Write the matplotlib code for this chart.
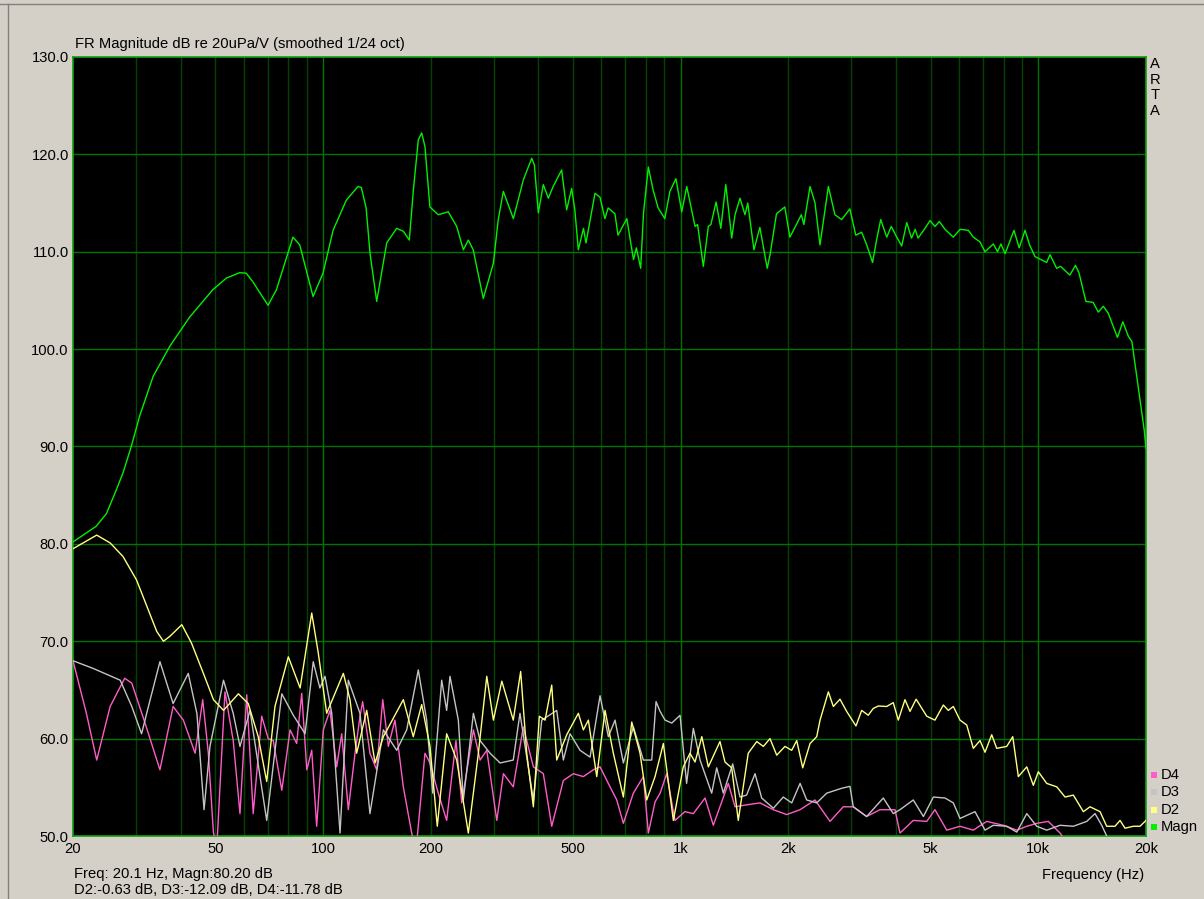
import matplotlib
matplotlib.use("Agg")
import matplotlib.pyplot as plt
from matplotlib.lines import Line2D
from matplotlib.patches import Rectangle

W, H = 1204, 899
BG = "#D4D0C8"

# ---- data (Hz, dB) ----
magn_f = [20, 23.2, 24.8, 26.4, 27.6, 29.1, 30.7, 33.5, 37.3, 42.4, 49.2, 53.7, 58.5, 61, 63.7,
          70.2, 74.1, 82.4, 86.1, 93.8, 100, 106.7, 116.2, 125.3, 128, 132, 135.4, 141.3, 150.7,
          160.7, 167.8, 174.3, 178.9, 184.7, 188.8, 192.8, 199, 210, 224, 236.5, 246.8, 254.9,
          263, 280.6, 299.4, 309, 319.3, 340.6, 363.3, 383.4, 390, 400, 413, 426.6, 440, 464.8,
          480, 495.7, 506, 517.4, 535, 543.6, 576, 595, 614, 627, 655, 668, 707, 738, 752, 773,
          787, 812, 838, 865, 903, 933, 970, 1007, 1040, 1097, 1115, 1157, 1195, 1215, 1256,
          1295, 1337, 1389, 1419, 1465, 1513, 1540, 1603, 1665, 1746, 1780, 1853, 1955, 2020,
          2080, 2175, 2210, 2300, 2375, 2452, 2588, 2700, 2819, 2972, 3088, 3207, 3313, 3440,
          3530, 3625, 3768, 3880, 4019, 4150, 4287, 4420, 4526, 4610, 4820, 4980, 5140, 5287,
          5485, 5783, 6043, 6372, 6580, 6871, 7095, 7485, 7690, 7860, 8074, 8548, 8840, 9180,
          9450, 9790, 10550, 10780, 11250, 11540, 12250, 12700, 13000, 13580, 14230, 14710,
          15190, 15680, 16640, 17230, 17860, 18260, 19120, 19770, 20000]
magn_db = [80.2, 81.8, 83.1, 85.5, 87.3, 90.0, 93.1, 97.2, 100.3, 103.3, 106.1, 107.3, 107.85, 107.8,
           106.9, 104.5, 106.1, 111.5, 110.7, 105.4, 107.8, 112.2, 115.3, 116.7, 116.6, 114.5,
           109.8, 104.9, 110.9, 112.4, 112.1, 111.2, 116.3, 121.5, 122.2, 120.8, 114.6, 113.8,
           114.1, 112.6, 110.2, 111.2, 110.2, 105.2, 108.8, 113.3, 116.2, 113.4, 117.4, 119.6,
           118.9, 114.0, 116.9, 115.5, 116.7, 118.4, 114.3, 116.5, 114.3, 110.2, 112.4, 110.9,
           116.0, 115.6, 113.4, 114.5, 113.9, 111.7, 113.4, 109.2, 110.4, 108.3, 113.9, 118.7,
           116.3, 114.5, 113.4, 116.2, 117.5, 114.1, 116.7, 112.6, 112.8, 108.5, 112.6, 112.8,
           115.1, 112.4, 116.9, 111.4, 113.8, 115.5, 113.8, 115.0, 110.2, 112.5, 108.3, 109.8,
           113.9, 114.6, 111.5, 112.4, 113.8, 112.8, 116.7, 115.0, 110.7, 116.7, 113.8, 113.3,
           114.4, 111.7, 112.0, 110.7, 108.9, 111.2, 113.3, 111.5, 112.6, 111.5, 110.6, 113.0,
           111.4, 112.3, 111.4, 112.4, 113.2, 112.6, 113.1, 112.3, 111.5, 112.3, 112.2, 111.5,
           111.0, 110.0, 110.8, 110.0, 110.8, 109.8, 112.2, 110.4, 112.2, 110.7, 109.5, 108.9,
           109.7, 108.3, 108.5, 107.6, 108.6, 107.8, 104.9, 104.8, 103.8, 104.4, 103.7, 101.2,
           102.8, 101.3, 100.8, 95.5, 91.7, 89.8]

d2_f = [20, 23.3, 25.4, 27.6, 30.1, 32.5, 34.3, 35.8, 37.3, 40.3, 42.9, 46.3, 49.4, 52.7, 58.0,
        61.8, 65.9, 69.6, 73.4, 80.0, 86.3, 93.0, 97.0, 102.4, 114.0, 119.0, 124.2, 132.5, 139.8,
        147.5, 167.7, 178.8, 188.8, 199.1, 208.7, 221.7, 236.5, 254.9, 271.9, 287.0, 299.5,
        316.2, 340.4, 357.0, 371.2, 387.4, 402.6, 417.7, 436.0, 450.3, 480.3, 517.5, 534.5,
        552.0, 582.6, 614.6, 648.3, 691.5, 729.8, 769.8, 803.8, 848.0, 894.6, 954.1, 1017,
        1062, 1097, 1146, 1195, 1288, 1330, 1389, 1449, 1545, 1632, 1703, 1777, 1856, 1957,
        2044, 2111, 2194, 2300, 2401, 2453, 2588, 2672, 2789, 2911, 3091, 3207, 3346, 3455,
        3569, 3768, 3930, 4059, 4238, 4377, 4553, 4876, 5140, 5425, 5602, 5785, 6040, 6306,
        6580, 6870, 7095, 7407, 7650, 8159, 8482, 8793, 9283, 9683, 10000, 10554, 11258, 11877,
        12530, 13361, 13948, 14876, 15531, 16384, 16920, 17474, 18433, 19243, 20000]
d2_db = [79.5, 80.9, 80.1, 78.7, 76.3, 73.2, 71.0, 70.0, 70.5, 71.7, 69.8, 66.7, 64.0, 62.9, 64.6,
         63.6, 60.2, 55.6, 63.3, 68.4, 65.2, 72.9, 68.8, 62.6, 66.7, 64.0, 58.5, 62.9, 57.5, 60.2,
         64.0, 60.2, 63.5, 59.2, 51.0, 60.5, 57.8, 50.3, 58.5, 66.4, 61.9, 65.9, 61.9, 66.9, 58.5,
         53.0, 62.3, 61.9, 65.5, 57.8, 60.4, 62.6, 60.9, 61.9, 56.1, 62.9, 58.5, 54.0, 61.7, 58.5,
         53.7, 56.1, 59.5, 51.6, 57.1, 58.5, 57.6, 60.2, 57.1, 59.7, 57.6, 57.0, 51.6, 58.5, 59.7,
         59.2, 60.0, 58.3, 59.2, 58.8, 59.8, 57.0, 59.5, 60.2, 61.9, 64.8, 63.3, 64.05, 62.8,
         61.3, 62.9, 62.4, 63.1, 63.35, 63.3, 63.7, 61.9, 64.0, 62.8, 64.05, 62.3, 61.9, 63.45,
         62.9, 63.3, 61.9, 61.4, 59.0, 59.8, 58.6, 60.4, 59.0, 59.2, 60.2, 56.1, 57.1, 55.2, 56.6,
         55.4, 55.05, 54.0, 54.2, 52.5, 53.0, 52.5, 51.0, 51.0, 51.6, 50.8, 51.0, 51.0, 51.6]

d3_f = [20, 22.8, 27.1, 29.2, 31.1, 32.5, 35.0, 38.1, 42.0, 44.4, 46.5, 48.3, 52.7, 56.1, 58.6,
        62.5, 69.6, 76.7, 82.6, 89.1, 93.9, 98.0, 101.3, 105.8, 111.6, 117.7, 126.9, 135.3,
        147.5, 160.7, 171.4, 184.7, 194.9, 202.6, 214.7, 221.7, 226.5, 239.0, 246.8, 263.3,
        274.9, 293.2, 312.7, 340.4, 355.4, 387.4, 408.9, 450.3, 469.9, 490.6, 523.2, 558.1,
        595.1, 627.8, 655.4, 691.5, 737.4, 786.4, 830.0, 853.5, 875.8, 904.5, 944.3, 996,
        1039, 1085, 1133, 1221, 1261, 1316, 1398, 1465, 1529, 1614, 1685, 1816, 1936, 2044,
        2157, 2251, 2401, 2561, 2819, 2974, 3038, 3311, 3686, 3930, 4103, 4471, 4771, 5088,
        5485, 5785, 6040, 6652, 7095, 7484, 8159, 8703, 9283, 9898, 10554, 11500, 12530, 13656,
        14404, 15038, 15531, 16200, 20000]
d3_db = [68.0, 67.2, 66.0, 63.3, 60.5, 63.3, 67.9, 63.6, 66.7, 62.6, 52.7, 59.2, 66.0, 62.6, 59.2,
         62.9, 51.6, 64.6, 62.4, 60.5, 67.9, 65.2, 66.4, 62.6, 50.3, 66.0, 62.6, 52.3, 60.9, 58.8,
         60.9, 67.05, 61.9, 54.4, 66.0, 62.9, 66.4, 61.9, 53.7, 62.6, 59.8, 58.5, 57.5, 57.8, 62.6,
         53.7, 61.9, 62.9, 57.8, 60.5, 58.8, 58.1, 64.4, 60.2, 61.9, 57.5, 61.2, 57.8, 57.8, 63.8,
         62.8, 61.9, 61.6, 62.4, 55.4, 61.05, 57.8, 54.4, 57.0, 54.4, 57.4, 54.0, 54.2, 56.4,
         53.9, 52.85, 54.0, 53.4, 55.4, 53.7, 53.4, 54.4, 54.9, 55.1, 53.0, 52.0, 53.9, 52.3,
         52.7, 53.7, 52.0, 54.0, 53.9, 53.4, 51.8, 52.5, 50.6, 51.1, 51.0, 50.4, 52.3, 51.0,
         50.6, 51.1, 51.0, 51.5, 52.3, 51.1, 50.0, 47.5, 46.0]

d4_f = [20, 21.8, 23.3, 25.4, 27.9, 29.2, 31.8, 35.0, 38.1, 40.7, 43.9, 46.1, 47.8, 49.4, 50.5,
        53.2, 56.1, 58.6, 61.2, 63.8, 67.4, 70.3, 72.6, 76.7, 80.9, 84.4, 87.2, 90.1, 93.0, 96.0,
        100.2, 104.6, 109.2, 112.8, 117.7, 122.9, 126.9, 129.1, 135.3, 141.3, 146.9, 152.3,
        158.9, 167.7, 177.0, 182, 192.8, 199.1, 210.0, 221.7, 235.4, 244.3, 263.3, 274.9, 287.0,
        306.1, 319.5, 340.4, 363.1, 387.4, 413.1, 436.0, 469.9, 501.1, 534.5, 570.0, 595.1,
        634.7, 662.7, 691.5, 737.4, 786.4, 812.2, 848, 876, 914, 964, 1028, 1085, 1170, 1234,
        1359, 1419, 1529, 1667, 1816, 1979, 2157, 2375, 2616, 2848, 3038, 3311, 3609, 3974,
        4103, 4471, 4876, 5140, 5545, 6040, 6580, 7174, 7983, 8703, 9283, 9898, 10664, 11500,
        12500, 20000]
d4_db = [68.0, 62.6, 57.8, 63.3, 66.2, 65.7, 61.6, 56.8, 63.3, 61.9, 58.5, 64.0, 58.5, 50.3, 49.0,
         64.8, 59.8, 52.3, 64.5, 52.3, 62.3, 60.0, 59.8, 54.7, 60.9, 59.5, 64.65, 56.8, 58.8, 51.0,
         60.9, 62.9, 57.1, 60.5, 52.7, 58.5, 62.3, 63.8, 58.5, 56.8, 64.0, 59.2, 61.9, 55.05, 50.3,
         48.5, 58.5, 57.5, 54.4, 51.6, 59.8, 53.4, 60.9, 57.8, 58.8, 51.6, 56.4, 55.05, 61.2, 57.1,
         56.4, 51.0, 55.7, 56.4, 56.1, 56.8, 57.1, 55.05, 53.7, 51.3, 54.4, 56.1, 50.3, 53.5, 54.4,
         56.4, 51.6, 52.5, 52.3, 53.9, 51.1, 55.4, 53.0, 53.2, 53.4, 52.7, 52.2, 52.7, 53.7, 51.5,
         53.0, 53.0, 52.0, 52.7, 52.7, 50.3, 51.6, 51.5, 52.7, 50.6, 51.0, 50.6, 51.5, 51.1, 50.6,
         51.0, 51.3, 51.5, 50.3, 48.5, 46.0]

x_labels = ["20", "50", "100", "200", "500", "1k", "2k", "5k", "10k", "20k"]
x_label_pos = [20, 50, 100, 200, 500, 1000, 2000, 5000, 10000, 20000]
y_ticks = [50, 60, 70, 80, 90, 100, 110, 120, 130]

series = [
    ("D4", d4_f, d4_db, "#FF5CC8"),
    ("D3", d3_f, d3_db, "#C4C4C4"),
    ("D2", d2_f, d2_db, "#FFFF80"),
    ("Magn", magn_f, magn_db, "#00F000"),
]

plt.rcParams["font.family"] = ["Liberation Sans", "DejaVu Sans"]
FS = 10.6


def fx(x):
    return x / W


def fy(y):
    return 1 - y / H


fig = plt.figure(figsize=(W / 100, H / 100), dpi=100, facecolor=BG)
ax = fig.add_axes([fx(73), fy(836), fx(1146) - fx(73), fy(57) - fy(836)])
ax.set_facecolor("black")
ax.set_xscale("log")
ax.set_xlim(20, 20000)
ax.set_ylim(50, 130)

# grid: every 1-2-..-9 per decade, decades a bit brighter
for dec in [10, 100, 1000, 10000]:
    for m in range(1, 10):
        v = dec * m
        if 20 < v < 20000:
            c = "#007400" if m == 1 else "#004400"
            ax.axvline(v, color=c, lw=1.0, zorder=1)
for v in y_ticks[1:-1]:
    ax.axhline(v, color="#007400", lw=1.0, zorder=1)

for name, f, db, col in series:
    ax.plot(f, db, color=col, lw=1.0, zorder=3 if name != "Magn" else 4)

for sp in ax.spines.values():
    sp.set_color("#10A010")
    sp.set_linewidth(1.2)

ax.set_xticks(x_label_pos)
ax.set_xticklabels(x_labels)
ax.minorticks_off()
ax.set_yticks(y_ticks)
ax.set_yticklabels([f"{v:.1f}" for v in y_ticks])
ax.tick_params(length=0, labelsize=FS, colors="#000000", pad=4)
ax.tick_params(axis="y", pad=3)

fig.text(fx(75), fy(44), "FR Magnitude dB re 20uPa/V (smoothed 1/24 oct)", fontsize=FS,
         va="center", ha="left")
fig.text(fx(1155), fy(57), "A\nR\nT\nA", fontsize=FS, va="top", ha="center", linespacing=1.15)
fig.text(fx(1144), fy(875), "Frequency (Hz)", fontsize=FS, va="center", ha="right")
fig.text(fx(74), fy(874), "Freq: 20.1 Hz, Magn:80.20 dB", fontsize=FS, va="center", ha="left")
fig.text(fx(74), fy(890), "D2:-0.63 dB, D3:-12.09 dB, D4:-11.78 dB", fontsize=FS,
         va="center", ha="left")

# legend at the right edge
for i, (name, f, db, col) in enumerate(series):
    yc = 775 + i * 17.3
    fig.add_artist(Rectangle((fx(1151), fy(yc + 3)), 6 / W, 6 / H, facecolor=col,
                             edgecolor="none", transform=fig.transFigure))
    fig.text(fx(1161), fy(yc), name, fontsize=FS, va="center", ha="left")

# window frame lines
fig.add_artist(Line2D([0, 1], [fy(3.5), fy(3.5)], color="#808080", lw=1.0, transform=fig.transFigure))
fig.add_artist(Line2D([fx(8), fx(8)], [0, fy(3.5)], color="#808080", lw=1.0, transform=fig.transFigure))

fig.savefig("out.png", dpi=100, facecolor=BG)
